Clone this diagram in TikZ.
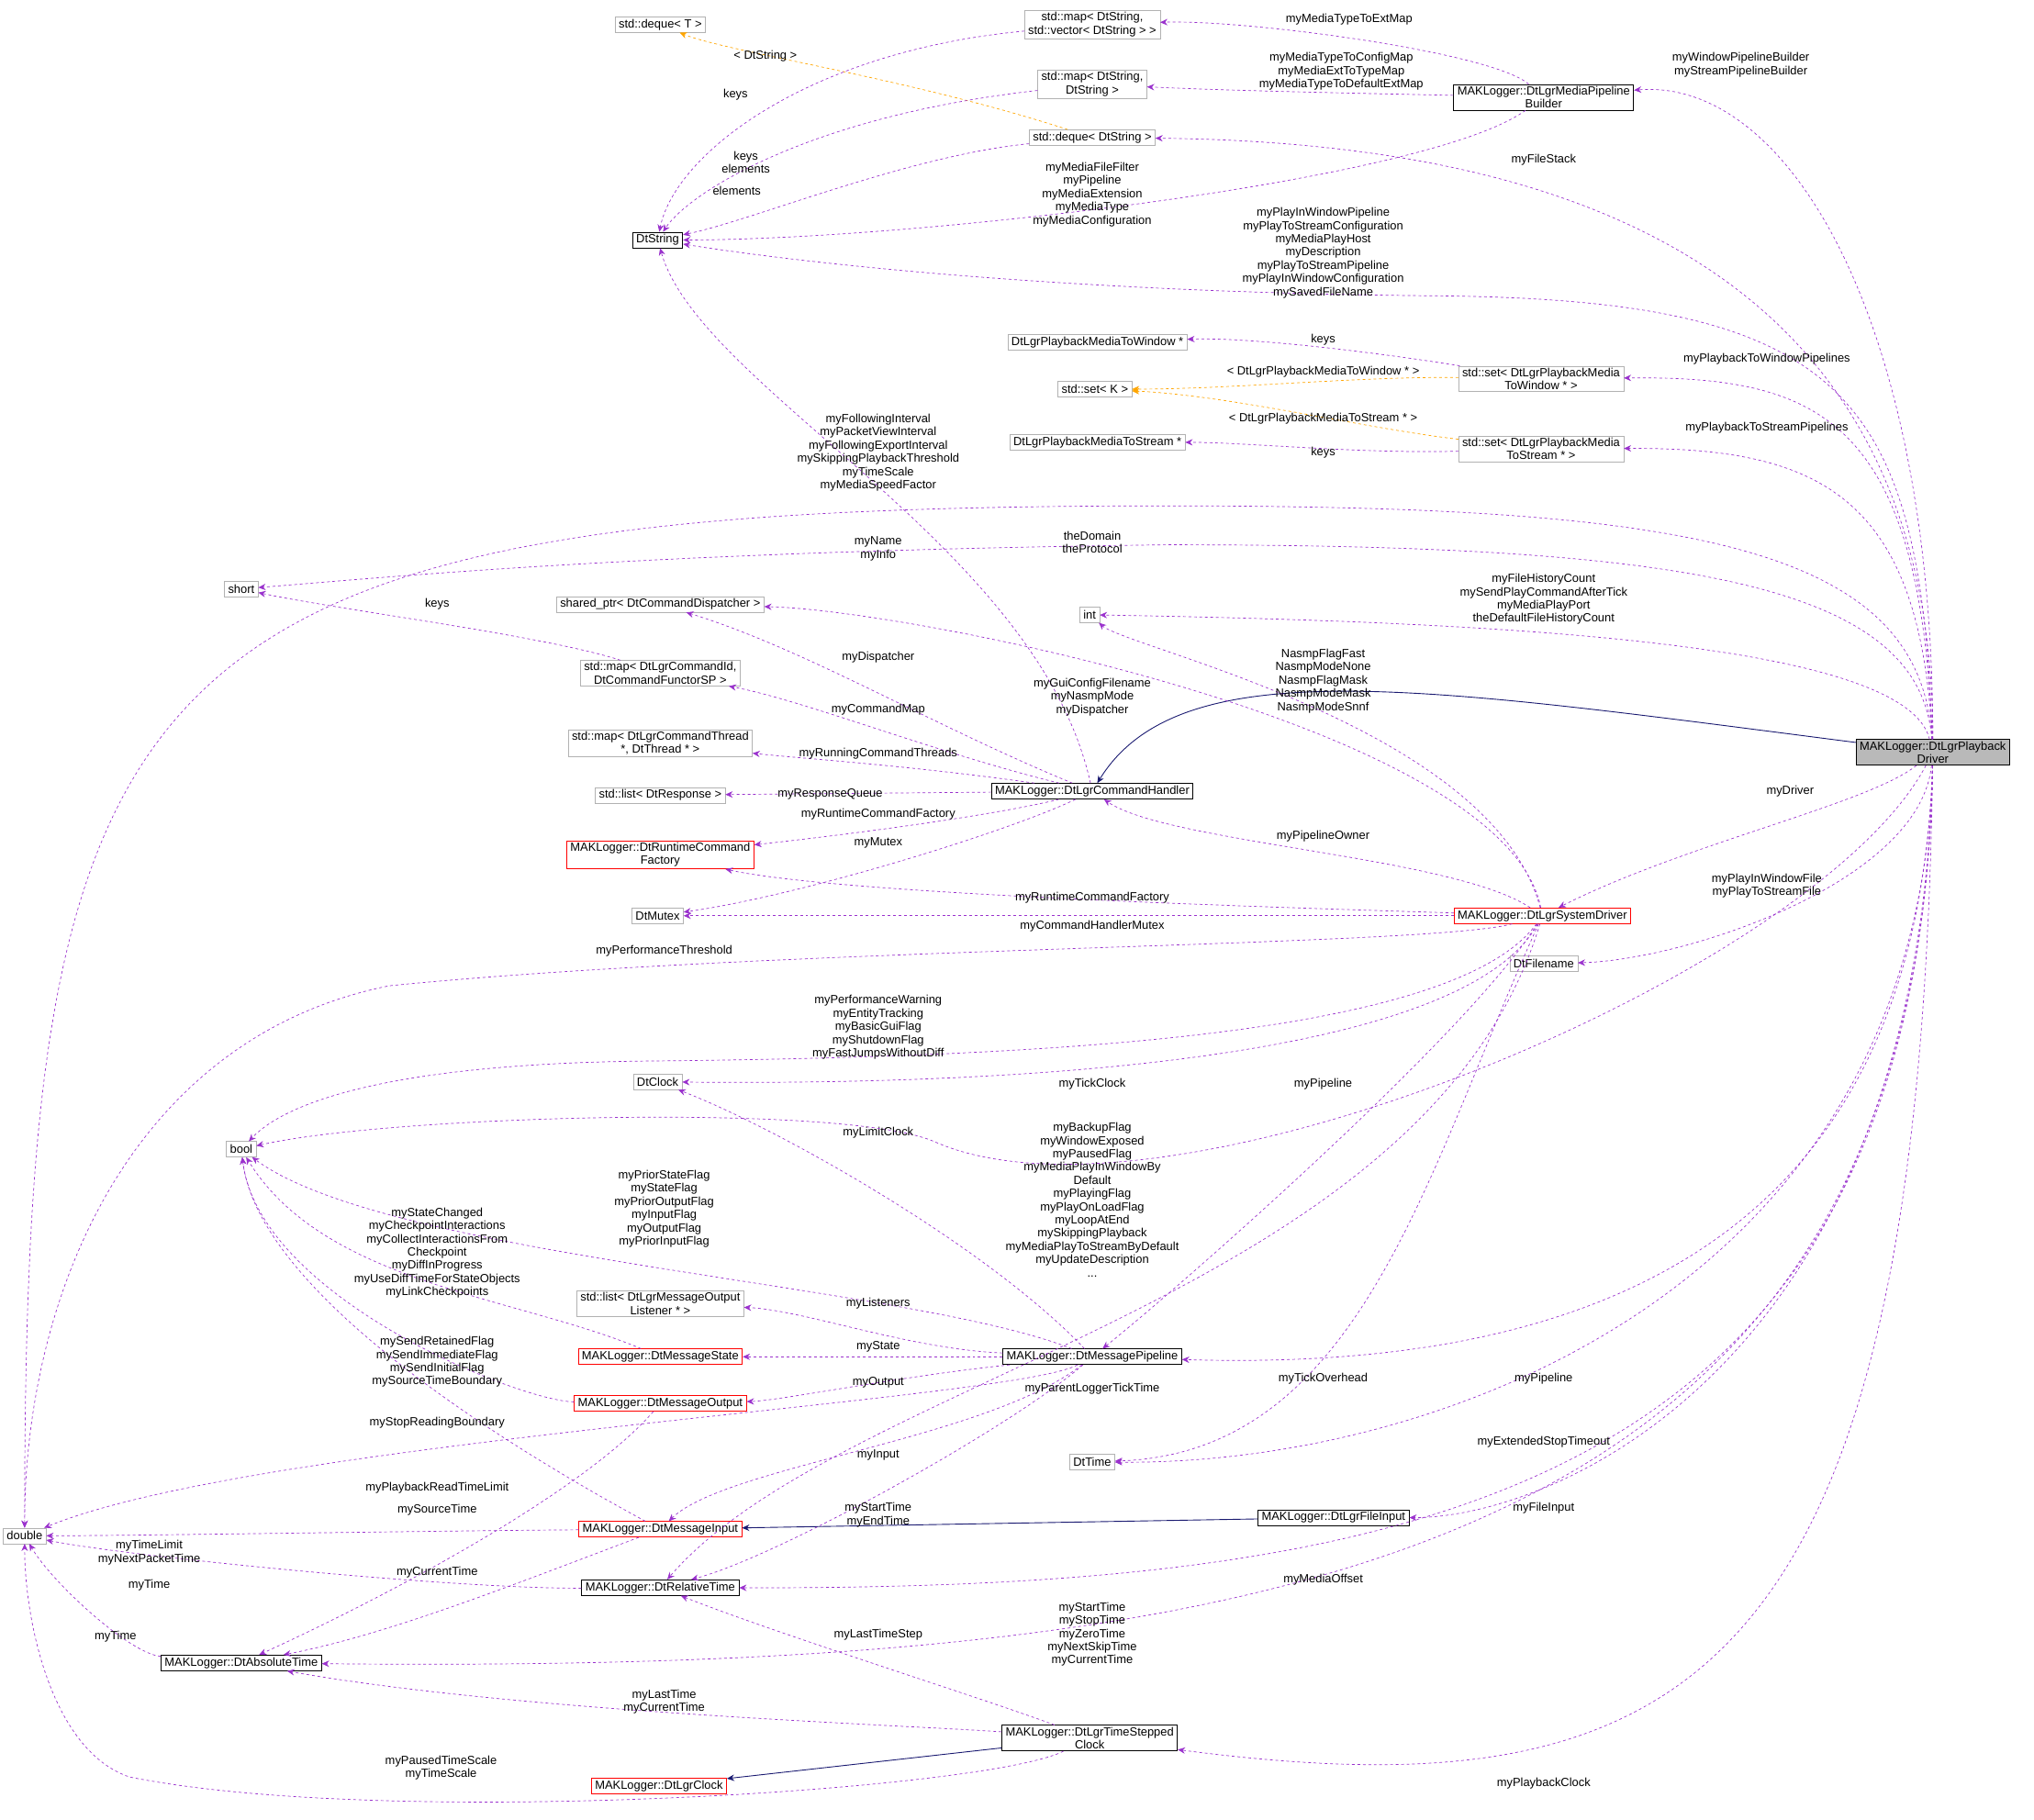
\documentclass[tikz,border=0pt]{standalone}
\usepackage{fontspec}
\setmainfont{Liberation Sans}
\usetikzlibrary{arrows.meta}
\definecolor{depcol}{HTML}{9A32CD}
\definecolor{tplcol}{HTML}{FFA500}
\definecolor{inhcol}{HTML}{191970}
\tikzset{
  box/.style={draw, rectangle, font=\fontsize{13}{14.5}\selectfont, align=center, inner xsep=4pt, inner ysep=2pt, minimum height=0.9cm, fill=white},
  cls/.style={box, draw=black, line width=0.8pt},
  ext/.style={box, draw=gray!60},
  bad/.style={box, draw=red, line width=0.8pt},
  cur/.style={box, draw=black, fill=gray!55, line width=0.8pt},
  dep/.style={depcol, dashed, line width=0.7pt, -{Stealth[length=8pt,width=7pt]}},
  tpl/.style={tplcol, dashed, line width=0.7pt, -{Stealth[length=8pt,width=7pt]}},
  inh/.style={inhcol, line width=0.9pt, -{Stealth[length=8pt,width=7pt]}},
  lbl/.style={font=\fontsize{13}{14.5}\selectfont, align=center, inner sep=0pt}
}
\begin{document}
\begin{tikzpicture}[x=0.05cm, y=-0.05cm]
    \useasboundingbox (0,0) rectangle (1568,1403);

    % Classes
    \node[cur] (drv) at (1490,580) {MAKLogger::DtLgrPlayback\\Driver};
    \node[cls] (bld) at (1190,75) {MAKLogger::DtLgrMediaPipeline\\Builder};
    \node[ext] (mapv) at (842,19) {std::map< DtString,\\ std::vector< DtString > >};
    \node[ext] (maps) at (842,65) {std::map< DtString,\\ DtString >};
    \node[ext, minimum height=0.6cm] (dqs) at (842,106) {std::deque< DtString >};
    \node[ext, minimum height=0.6cm] (dqt) at (509,19) {std::deque< T >};
    \node[cls, minimum height=0.6cm] (dts) at (507,185) {DtString};
    \node[ext, minimum height=0.6cm] (pmw) at (846,264) {DtLgrPlaybackMediaToWindow *};
    \node[ext, minimum height=0.6cm] (setk) at (844,300) {std::set< K >};
    \node[ext, minimum height=0.6cm] (pms) at (846,341) {DtLgrPlaybackMediaToStream *};
    \node[ext] (stw) at (1188,292) {std::set< DtLgrPlaybackMedia\\ToWindow * >};
    \node[ext] (sts) at (1188,346) {std::set< DtLgrPlaybackMedia\\ToStream * >};
    \node[ext, minimum height=0.6cm] (short) at (186,454) {short};
    \node[ext, minimum height=0.6cm] (int) at (840,474) {int};
    \node[ext, minimum height=0.6cm] (shp) at (509,466) {shared\_ptr< DtCommandDispatcher >};
    \node[ext] (mapc) at (509,519) {std::map< DtLgrCommandId,\\ DtCommandFunctorSP >};
    \node[ext] (mapt) at (509,573) {std::map< DtLgrCommandThread\\ *, DtThread * >};
    \node[ext, minimum height=0.6cm] (lstr) at (509,613) {std::list< DtResponse >};
    \node[cls, minimum height=0.6cm] (cmd) at (842,610) {MAKLogger::DtLgrCommandHandler};
    \node[bad] (rcf) at (509,659) {MAKLogger::DtRuntimeCommand\\Factory};
    \node[ext, minimum height=0.6cm] (mtx) at (507,706) {DtMutex};
    \node[bad, minimum height=0.6cm] (sysd) at (1189,706) {MAKLogger::DtLgrSystemDriver};
    \node[ext, minimum height=0.6cm] (fnm) at (1190,743) {DtFilename};
    \node[ext, minimum height=0.6cm] (clk) at (507,834) {DtClock};
    \node[ext, minimum height=0.6cm] (bool) at (186,886) {bool};
    \node[ext] (lsl) at (509,1005) {std::list< DtLgrMessageOutput\\ Listener * >};
    \node[bad, minimum height=0.6cm] (mst) at (509,1046) {MAKLogger::DtMessageState};
    \node[cls, minimum height=0.6cm] (mpl) at (842,1046) {MAKLogger::DtMessagePipeline};
    \node[bad, minimum height=0.6cm] (mout) at (509,1082) {MAKLogger::DtMessageOutput};
    \node[ext, minimum height=0.6cm] (dtt) at (842,1127) {DtTime};
    \node[ext, minimum height=0.6cm] (dbl) at (19,1184) {double};
    \node[bad, minimum height=0.6cm] (min) at (509,1179) {MAKLogger::DtMessageInput};
    \node[cls, minimum height=0.6cm] (fin) at (1028,1170) {MAKLogger::DtLgrFileInput};
    \node[cls, minimum height=0.6cm] (rel) at (509,1224) {MAKLogger::DtRelativeTime};
    \node[cls, minimum height=0.6cm] (abs) at (186,1282) {MAKLogger::DtAbsoluteTime};
    \node[cls] (tsc) at (840,1340) {MAKLogger::DtLgrTimeStepped\\Clock};
    \node[bad, minimum height=0.6cm] (lgc) at (508,1377) {MAKLogger::DtLgrClock};

    % Template and inheritance edges
    \draw[tpl] (dqs) .. controls (700,60) and (560,40) .. (dqt);
    \draw[tpl] (stw) .. controls (1050,290) and (950,300) .. (setk);
    \draw[tpl] (sts) .. controls (1050,330) and (950,305) .. (setk);
    \draw[inh] (drv) .. controls (1100,530) and (910,500) .. (cmd);
    \draw[inh] (fin) -- (min);
    \draw[inh] (tsc) -- (lgc);

    % Members of the media side
    \draw[dep] (bld) .. controls (1150,40) and (960,15) .. (mapv);
    \draw[dep] (bld) .. controls (1050,72) and (950,70) .. (maps);
    \draw[dep] (drv) .. controls (1490,250) and (1380,60) .. (bld);
    \draw[dep] (drv) .. controls (1490,200) and (1200,110) .. (dqs);
    \draw[dep] (mapv) .. controls (620,40) and (520,120) .. (dts);
    \draw[dep] (maps) .. controls (620,90) and (530,150) .. (dts);
    \draw[dep] (dqs) .. controls (700,120) and (580,170) .. (dts);
    \draw[dep] (bld) .. controls (1100,140) and (700,185) .. (dts);
    \draw[dep] (drv) .. controls (1480,300) and (1420,230) .. (1100,228) .. controls (800,225) and (600,200) .. (dts);
    \draw[dep] (stw) .. controls (1050,270) and (960,260) .. (pmw);
    \draw[dep] (sts) .. controls (1050,350) and (960,341) .. (pms);
    \draw[dep] (drv) .. controls (1480,320) and (1400,290) .. (stw);
    \draw[dep] (drv) .. controls (1480,380) and (1400,345) .. (sts);
    \draw[dep] (drv) .. controls (1480,420) and (1300,390) .. (900,390) .. controls (100,390) and (19,500) .. (dbl);
    \draw[dep] (drv) .. controls (1480,450) and (1300,420) .. (900,420) .. controls (500,425) and (300,445) .. (short);
    \draw[dep] (mapc) .. controls (420,490) and (260,470) .. (short);
    \draw[dep] (drv) .. controls (1470,500) and (1200,480) .. (int);

    % Command handler and system driver
    \draw[dep] (cmd) .. controls (800,420) and (540,300) .. (dts);
    \draw[dep] (cmd) .. controls (720,560) and (620,500) .. (shp);
    \draw[dep] (cmd) .. controls (720,580) and (620,540) .. (mapc);
    \draw[dep] (cmd) .. controls (700,590) and (620,585) .. (mapt);
    \draw[dep] (cmd) -- (lstr);
    \draw[dep] (cmd) .. controls (760,630) and (640,645) .. (rcf);
    \draw[dep] (cmd) .. controls (780,640) and (620,690) .. (mtx);
    \draw[dep] (sysd) .. controls (1160,560) and (700,470) .. (shp);
    \draw[dep] (sysd) .. controls (1150,560) and (870,500) .. (int);
    \draw[dep] (drv) .. controls (1440,620) and (1300,650) .. (sysd);
    \draw[dep] (sysd) .. controls (1120,660) and (900,650) .. (cmd);
    \draw[dep] (sysd) .. controls (1000,700) and (650,690) .. (rcf);
    \draw[dep] (sysd) -- (mtx);
    \draw[dep] (sysd) .. controls (1100,730) and (600,730) .. (300,760) .. controls (100,800) and (19,1000) .. (dbl);
    \draw[dep] (sysd) .. controls (1120,800) and (800,815) .. (500,818) .. controls (300,820) and (220,850) .. (bool);
    \draw[dep] (sysd) .. controls (1120,830) and (700,836) .. (clk);
    \draw[dep] (sysd) .. controls (1130,800) and (900,1000) .. (mpl);
    \draw[dep] (sysd) .. controls (1100,900) and (1050,1120) .. (dtt);
    \draw[dep] (sysd) .. controls (1100,1000) and (650,1060) .. (rel);
    \draw[dep] (drv) .. controls (1480,680) and (1300,740) .. (fnm);
    \draw[dep] (drv) .. controls (1400,750) and (900,960) .. (720,880) .. controls (650,850) and (300,860) .. (bool);

    % Message pipeline and times
    \draw[dep] (mpl) .. controls (760,960) and (600,870) .. (clk);
    \draw[dep] (mpl) .. controls (700,990) and (300,970) .. (bool);
    \draw[dep] (mst) .. controls (400,1000) and (250,990) .. (bool);
    \draw[dep] (mout) .. controls (400,1080) and (200,1000) .. (bool);
    \draw[dep] (min) .. controls (400,1120) and (200,1000) .. (bool);
    \draw[dep] (mpl) .. controls (700,1040) and (620,1010) .. (lsl);
    \draw[dep] (mpl) -- (mst);
    \draw[dep] (mpl) .. controls (700,1060) and (600,1080) .. (mout);
    \draw[dep] (drv) .. controls (1480,900) and (1300,1060) .. (mpl);
    \draw[dep] (mpl) .. controls (780,1080) and (200,1110) .. (dbl);
    \draw[dep] (mpl) .. controls (760,1110) and (560,1130) .. (min);
    \draw[dep] (mpl) .. controls (780,1100) and (600,1200) .. (rel);
    \draw[dep] (drv) .. controls (1480,1000) and (1100,1130) .. (dtt);
    \draw[dep] (drv) .. controls (1480,1050) and (1200,1170) .. (fin);
    \draw[dep] (mout) .. controls (450,1150) and (300,1230) .. (abs);
    \draw[dep] (min) .. controls (350,1180) and (100,1184) .. (dbl);
    \draw[dep] (min) .. controls (400,1220) and (300,1260) .. (abs);
    \draw[dep] (rel) .. controls (350,1225) and (100,1200) .. (dbl);
    \draw[dep] (drv) .. controls (1480,1150) and (1100,1225) .. (rel);
    \draw[dep] (abs) .. controls (100,1275) and (40,1220) .. (dbl);
    \draw[dep] (drv) .. controls (1480,1200) and (1000,1290) .. (abs);
    \draw[dep] (tsc) .. controls (760,1310) and (600,1260) .. (rel);
    \draw[dep] (tsc) .. controls (700,1330) and (400,1320) .. (abs);
    \draw[dep] (tsc) .. controls (760,1380) and (300,1410) .. (100,1370) .. controls (40,1350) and (19,1250) .. (dbl);
    \draw[dep] (drv) .. controls (1480,1300) and (1300,1400) .. (tsc);

    % Edge labels
    \node[lbl] at (1040,15) {myMediaTypeToExtMap};
    \node[lbl] at (1034,55) {myMediaTypeToConfigMap\\myMediaExtToTypeMap\\myMediaTypeToDefaultExtMap};
    \node[lbl] at (1342,50) {myWindowPipelineBuilder\\myStreamPipelineBuilder};
    \node[lbl] at (1190,123) {myFileStack};
    \node[lbl] at (590,43) {< DtString >};
    \node[lbl] at (567,73) {keys};
    \node[lbl] at (575,125) {keys\\elements};
    \node[lbl] at (568,147) {elements};
    \node[lbl] at (842,150) {myMediaFileFilter\\myPipeline\\myMediaExtension\\myMediaType\\myMediaConfiguration};
    \node[lbl] at (1020,195) {myPlayInWindowPipeline\\myPlayToStreamConfiguration\\myMediaPlayHost\\myDescription\\myPlayToStreamPipeline\\myPlayInWindowConfiguration\\mySavedFileName};
    \node[lbl] at (1020,262) {keys};
    \node[lbl] at (1020,287) {< DtLgrPlaybackMediaToWindow * >};
    \node[lbl] at (1020,323) {< DtLgrPlaybackMediaToStream * >};
    \node[lbl] at (1020,349) {keys};
    \node[lbl] at (1362,277) {myPlaybackToWindowPipelines};
    \node[lbl] at (1362,330) {myPlaybackToStreamPipelines};
    \node[lbl] at (677,349) {myFollowingInterval\\myPacketViewInterval\\myFollowingExportInterval\\mySkippingPlaybackThreshold\\myTimeScale\\myMediaSpeedFactor};
    \node[lbl] at (842,418) {theDomain\\theProtocol};
    \node[lbl] at (677,423) {myName\\myInfo};
    \node[lbl] at (337,466) {keys};
    \node[lbl] at (1190,462) {myFileHistoryCount\\mySendPlayCommandAfterTick\\myMediaPlayPort\\theDefaultFileHistoryCount};
    \node[lbl] at (1020,525) {NasmpFlagFast\\NasmpModeNone\\NasmpFlagMask\\NasmpModeMask\\NasmpModeSnnf};
    \node[lbl] at (842,532) {myGuiConfigFilename\\myNasmpMode};
    \node[lbl] at (677,507) {myDispatcher};
    \node[lbl] at (842,548) {myDispatcher};
    \node[lbl] at (677,547) {myCommandMap};
    \node[lbl] at (677,581) {myRunningCommandThreads};
    \node[lbl] at (640,612) {myResponseQueue};
    \node[lbl] at (677,628) {myRuntimeCommandFactory};
    \node[lbl] at (677,650) {myMutex};
    \node[lbl] at (1380,610) {myDriver};
    \node[lbl] at (1020,645) {myPipelineOwner};
    \node[lbl] at (1362,683) {myPlayInWindowFile\\myPlayToStreamFile};
    \node[lbl] at (842,692) {myRuntimeCommandFactory};
    \node[lbl] at (842,714) {myCommandHandlerMutex};
    \node[lbl] at (512,733) {myPerformanceThreshold};
    \node[lbl] at (677,792) {myPerformanceWarning\\myEntityTracking\\myBasicGuiFlag\\myShutdownFlag\\myFastJumpsWithoutDiff};
    \node[lbl] at (842,836) {myTickClock};
    \node[lbl] at (1020,836) {myPipeline};
    \node[lbl] at (842,925) {myBackupFlag\\myWindowExposed\\myPausedFlag\\myMediaPlayInWindowBy\\Default\\myPlayingFlag\\myPlayOnLoadFlag\\myLoopAtEnd\\mySkippingPlayback\\myMediaPlayToStreamByDefault\\myUpdateDescription\\...};
    \node[lbl] at (677,873) {myLimitClock};
    \node[lbl] at (512,932) {myPriorStateFlag\\myStateFlag\\myPriorOutputFlag\\myInputFlag\\myOutputFlag\\myPriorInputFlag};
    \node[lbl] at (337,966) {myStateChanged\\myCheckpointInteractions\\myCollectInteractionsFrom\\Checkpoint\\myDiffInProgress\\myUseDiffTimeForStateObjects\\myLinkCheckpoints};
    \node[lbl] at (337,1050) {mySendRetainedFlag\\mySendImmediateFlag\\mySendInitialFlag\\mySourceTimeBoundary};
    \node[lbl] at (337,1097) {myStopReadingBoundary};
    \node[lbl] at (677,1005) {myListeners};
    \node[lbl] at (677,1038) {myState};
    \node[lbl] at (677,1066) {myOutput};
    \node[lbl] at (1190,1063) {myPipeline};
    \node[lbl] at (1020,1063) {myTickOverhead};
    \node[lbl] at (842,1071) {myParentLoggerTickTime};
    \node[lbl] at (337,1147) {myPlaybackReadTimeLimit};
    \node[lbl] at (677,1122) {myInput};
    \node[lbl] at (677,1168) {myStartTime\\myEndTime};
    \node[lbl] at (1190,1112) {myExtendedStopTimeout};
    \node[lbl] at (1190,1163) {myFileInput};
    \node[lbl] at (337,1164) {mySourceTime};
    \node[lbl] at (115,1197) {myTimeLimit\\myNextPacketTime};
    \node[lbl] at (337,1212) {myCurrentTime};
    \node[lbl] at (115,1222) {myTime};
    \node[lbl] at (1020,1218) {myMediaOffset};
    \node[lbl] at (89,1262) {myTime};
    \node[lbl] at (842,1260) {myStartTime\\myStopTime\\myZeroTime\\myNextSkipTime\\myCurrentTime};
    \node[lbl] at (677,1260) {myLastTimeStep};
    \node[lbl] at (512,1312) {myLastTime\\myCurrentTime};
    \node[lbl] at (340,1363) {myPausedTimeScale\\myTimeScale};
    \node[lbl] at (1190,1375) {myPlaybackClock};
\end{tikzpicture}
\end{document}
